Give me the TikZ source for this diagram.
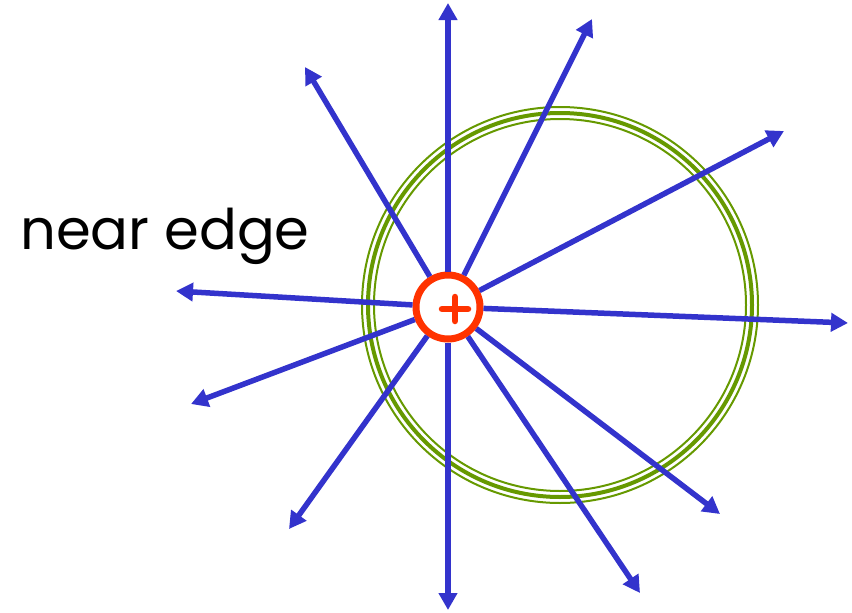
\documentclass[tikz,border=0pt]{standalone}
\usepackage{fontspec}
\setmainfont{Poppins}
\usetikzlibrary{arrows.meta}
\definecolor{fieldblue}{RGB}{51,51,204}
\definecolor{chargered}{RGB}{255,51,0}
\definecolor{ringgreen}{RGB}{102,153,0}
\tikzset{
  fieldline/.style={fieldblue,line width=5.5pt,-{Triangle[length=17pt,width=18pt]}},
  ring/.style={ringgreen,line width=#1},
}
\begin{document}
\begin{tikzpicture}[x=1pt,y=-1pt]
  \useasboundingbox (0,0) rectangle (852,613);
  % surface
  \draw[ring=2pt] (560,305) circle (198);
  \draw[ring=4pt] (560,305) circle (192);
  \draw[ring=2pt] (560,305) circle (186);
  % charge
  \node[circle,draw=chargered,line width=7pt,fill=white,minimum size=64pt,inner sep=0pt] (q) at (448,307) {};
  \draw[chargered,line width=6.5pt,line cap=round] (442,309) -- (468,309) (455,297) -- (455,321);
  % field lines
  \foreach \name/\x/\y in {n/448/3, nne/592/19, ne/784/131, e/848/323, se/720/514,
      sse/640/593, s/448/610, ssw/289/529, sw/191/404, w/176/291, nw/305/67} {
    \coordinate (t\name) at (\x,\y);
    \draw[fieldline] (q) -- (t\name);
  }
  \node[font=\fontsize{56}{62}\selectfont] (lbl) at (165,236) {near edge};
\end{tikzpicture}
\end{document}
